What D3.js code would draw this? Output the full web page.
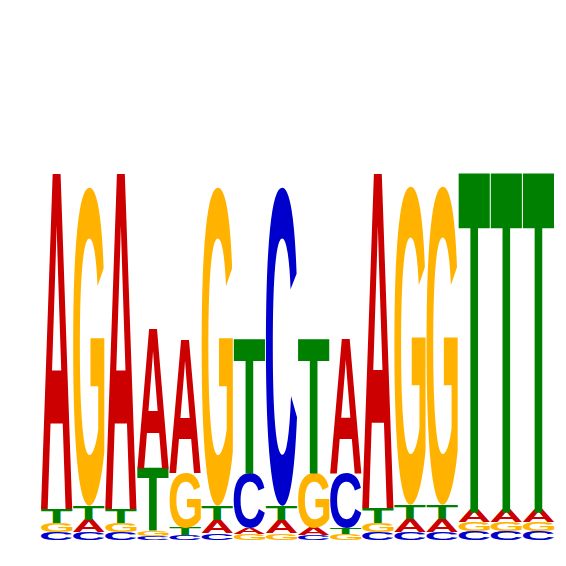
<!DOCTYPE html>
<html>
<head>
<meta charset="utf-8">
<script src="https://cdn.jsdelivr.net/npm/d3@7"></script>
<style>
  body { margin: 0; background: #fff; }
  svg { display: block; }
</style>
</head>
<body>
<svg id="logo" width="566" height="566"></svg>
<script>
// motif positions and per-letter heights (bits)
const positions = d3.range(1, 17);
const letters = ["A", "C", "G", "T"];
const bitsA = [1.723, 0.062, 1.723, 0.713, 0.682, 0.067, 0.032, 0.067, 0.036, 0.687, 1.718, 0.067, 0.067, 0.062, 0.062, 0.062];
const bitsC = [0.041, 0.041, 0.041, 0.021, 0.026, 0.036, 0.282, 1.636, 0.026, 0.282, 0.041, 0.041, 0.041, 0.044, 0.044, 0.044];
const bitsG = [0.046, 1.636, 0.046, 0.026, 0.282, 1.636, 0.030, 0.036, 0.282, 0.030, 0.046, 1.636, 1.636, 0.046, 0.046, 0.046];
const bitsT = [0.072, 0.072, 0.072, 0.318, 0.036, 0.072, 0.687, 0.072, 0.687, 0.032, 0.077, 0.072, 0.072, 1.733, 1.733, 1.733];

const colors = { A: "#CC0000", C: "#0000CC", G: "#FFB300", T: "#008000" };

const svg = d3.select("#logo");

const x = d3.scaleBand()
    .domain(positions)
    .range([41, 554])
    .paddingInner(0.03);

const y = d3.scaleLinear()
    .domain([0, 2])
    .range([540, 150]);

// find the ink box of each glyph by scanning a canvas, so letters can be
// stretched to fill their box exactly
const fontFamily = "'Liberation Sans', Arial, sans-serif";
const big = 200;
const cv = document.createElement("canvas");
cv.width = 400; cv.height = 400;
const ctx = cv.getContext("2d");
const ink = {};
letters.forEach(l => {
    ctx.clearRect(0, 0, 400, 400);
    ctx.font = "bold " + big + "px " + fontFamily;
    ctx.fillStyle = "#000";
    ctx.fillText(l, 100, 300);
    const px = ctx.getImageData(0, 0, 400, 400).data;
    let x0 = 400, x1 = -1, y0 = 400, y1 = -1;
    for (let j = 0; j < 400; j++) {
        for (let i = 0; i < 400; i++) {
            if (px[(j * 400 + i) * 4 + 3] > 127) {
                if (i < x0) x0 = i;
                if (i > x1) x1 = i;
                if (j < y0) y0 = j;
                if (j > y1) y1 = j;
            }
        }
    }
    const k = 100 / big;
    ink[l] = {
        left: (100 - x0) * k,
        w: (x1 + 1 - x0) * k,
        asc: (300 - y0) * k,
        h: (y1 + 1 - y0) * k
    };
});

// build stacks: smallest letter at the bottom
const stacks = positions.map((p, i) => {
    const vals = [
        { letter: "A", bits: bitsA[i] },
        { letter: "C", bits: bitsC[i] },
        { letter: "G", bits: bitsG[i] },
        { letter: "T", bits: bitsT[i] }
    ].sort((a, b) => a.bits - b.bits);
    let base = 0;
    vals.forEach(v => { v.y0 = base; base += v.bits; v.y1 = base; v.pos = p; });
    return vals;
});

const cols = svg.selectAll("g.col")
    .data(stacks)
    .join("g")
    .attr("class", "col");

cols.selectAll("text")
    .data(d => d)
    .join("text")
    .text(d => d.letter)
    .attr("fill", d => colors[d.letter])
    .attr("font-family", fontFamily)
    .attr("font-weight", "bold")
    .attr("font-size", 100)
    .attr("transform", d => {
        const g = ink[d.letter];
        const bx = x(d.pos), bw = x.bandwidth();
        const top = y(d.y1), bh = y(d.y0) - y(d.y1);
        const sx = bw / g.w, sy = bh / g.h;
        return "translate(" + (bx + g.left * sx) + "," + (top + g.asc * sy) + ") scale(" + sx + "," + sy + ")";
    });
</script>
</body>
</html>
